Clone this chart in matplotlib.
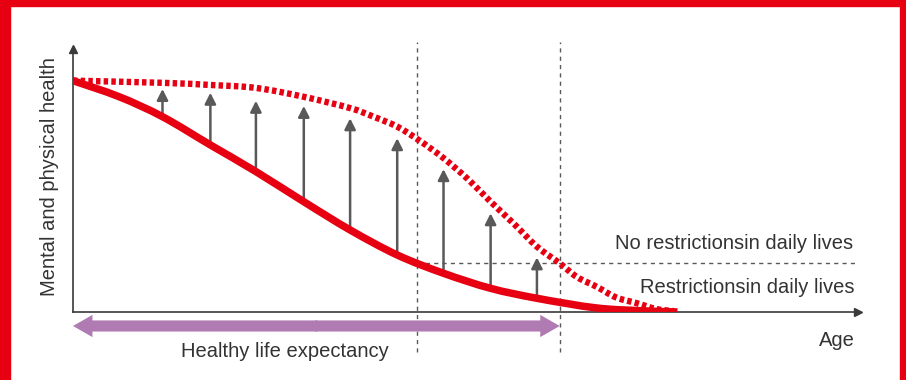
import numpy as np
import matplotlib
matplotlib.use("Agg")
import matplotlib.pyplot as plt
from matplotlib.patches import Rectangle, PathPatch
from matplotlib.path import Path

plt.rcParams['font.family'] = ['Liberation Sans', 'DejaVu Sans']

# health curve without intervention (solid) - age 0..100, health 0..100
age_solid = [0, 5.9, 11.4, 17.5, 23.3, 29.4, 35.3, 41.3, 47.2, 53.2, 59.1, 66.7, 73.0, 77.0]
health_solid = [86.0, 80.0, 72.6, 62.1, 52.2, 41.0, 30.5, 21.2, 14.4, 8.8, 5.1, 1.5, 0.4, 0.0]

# health curve with prevention (dotted)
age_dotted = [0, 11.4, 17.5, 23.3, 29.4, 35.3, 38.2, 41.3, 44.2, 47.2, 50.3, 53.2,
              56.2, 59.1, 62.0, 64.2, 66.7, 69.2, 71.8, 74.3, 76.6]
health_dotted = [86.0, 85.2, 84.4, 83.3, 80.0, 75.8, 72.7, 68.9, 63.6, 57.2, 49.4, 41.0,
                 32.7, 24.3, 18.1, 13.0, 9.4, 5.4, 3.3, 1.1, 0.3]

# improvement arrows
arrow_age = [11.4, 17.5, 23.3, 29.4, 35.3, 41.3, 47.2, 53.2, 59.1]
arrow_base = [72.6, 62.1, 52.2, 41.0, 30.5, 21.2, 14.4, 8.8, 5.1]
arrow_top = [82.9, 81.5, 78.5, 76.6, 72.0, 64.6, 53.1, 36.7, 20.3]

vline_age = [43.8, 62.0]   # dashed markers
hline_health = 18.2        # restriction threshold
healthy_span = (0, 62.0)   # healthy life expectancy

RED = '#e60012'
GREY = '#595959'
TXT = '#333333'
PURPLE = '#b07ab3'


def smooth_path(x, y):
    # catmull-rom through the read points, drawn as bezier segments
    pts = np.column_stack([x, y]).astype(float)
    n = len(pts)
    verts, codes = [pts[0]], [Path.MOVETO]
    for i in range(n - 1):
        p0, p1 = pts[max(i - 1, 0)], pts[i]
        p2, p3 = pts[i + 1], pts[min(i + 2, n - 1)]
        verts += [p1 + (p2 - p0) / 6, p2 - (p3 - p1) / 6, p2]
        codes += [Path.CURVE4] * 3
    return Path(verts, codes)


fig = plt.figure(figsize=(9.06, 3.8), dpi=100)
W, H = 906, 380

# red frame
fig.patches.append(Rectangle((0, 0), 10 / W, 1, transform=fig.transFigure, color=RED, zorder=0))
fig.patches.append(Rectangle((1 - 6 / W, 0), 6 / W, 1, transform=fig.transFigure, color=RED, zorder=0))
fig.patches.append(Rectangle((0, 1 - 6 / H), 1, 6 / H, transform=fig.transFigure, color=RED, zorder=0))

ax = fig.add_axes([73 / W, (H - 312) / H, (858 - 73) / W, (312 - 49) / H])
ax.set_xlim(0, 100)
ax.set_ylim(0, 100 * (312 - 49) / 269)
ax.patch.set_visible(False)
for s in ['top', 'right']:
    ax.spines[s].set_visible(False)
for s in ['left', 'bottom']:
    ax.spines[s].set_color('#3a3a3a')
    ax.spines[s].set_linewidth(1.2)
ax.set_xticks([]); ax.set_yticks([])
ax.plot(1, 0, '>', color='#3a3a3a', ms=6, transform=ax.transAxes, clip_on=False)
ax.plot(0, 1, '^', color='#3a3a3a', ms=6, transform=ax.transAxes, clip_on=False)

# guide lines
for a in vline_age:
    ax.plot([a, a], [-14.9, 100.4], color=GREY, lw=1, ls=(0, (3, 3)), clip_on=False)
ax.plot([vline_age[0], 99.6], [hline_health, hline_health], color=GREY, lw=1, ls=(0, (3, 3)))

# curves
ax.add_patch(PathPatch(smooth_path(age_dotted, health_dotted), fill=False, edgecolor=RED,
                       lw=4.6, ls=(0, (0.7, 0.5)), capstyle='butt', zorder=3))
ax.add_patch(PathPatch(smooth_path(age_solid, health_solid), fill=False, edgecolor=RED,
                       lw=5.4, capstyle='butt', joinstyle='round', zorder=3))

for a, b, t in zip(arrow_age, arrow_base, arrow_top):
    ax.annotate('', xy=(a, t), xytext=(a, b),
                arrowprops=dict(arrowstyle='-|>,head_length=0.65,head_width=0.33',
                                color=GREY, lw=1.8, shrinkA=0, shrinkB=0,
                                mutation_scale=10), zorder=2)

# healthy life expectancy arrow (two halves meeting in the middle)
mid = (healthy_span[0] + healthy_span[1]) / 2
style = 'simple,head_length=0.7,head_width=0.8,tail_width=0.4'
ax.annotate('', xy=(healthy_span[0], -5.2), xytext=(mid + 0.15, -5.2),
            arrowprops=dict(arrowstyle=style, color=PURPLE, lw=0, shrinkA=0, shrinkB=0,
                            mutation_scale=20), annotation_clip=False)
ax.annotate('', xy=(healthy_span[1], -5.2), xytext=(mid - 0.15, -5.2),
            arrowprops=dict(arrowstyle=style, color=PURPLE, lw=0, shrinkA=0, shrinkB=0,
                            mutation_scale=20), annotation_clip=False)

ax.text(-3.0, 50.5, 'Mental and physical health', rotation=90, ha='center', va='center',
        fontsize=14.5, color=TXT, clip_on=False)
ax.text(27.0, -14.8, 'Healthy life expectancy', ha='center', va='center',
        fontsize=14.5, color=TXT, clip_on=False)
ax.text(99.4, 25.5, 'No restrictionsin daily lives', ha='right', va='center',
        fontsize=14.5, color=TXT)
ax.text(99.6, 9.1, 'Restrictionsin daily lives', ha='right', va='center',
        fontsize=14.5, color=TXT)
ax.text(99.6, -10.6, 'Age', ha='right', va='center', fontsize=14.5, color=TXT, clip_on=False)

fig.savefig('out.png', dpi=100, facecolor='white')
